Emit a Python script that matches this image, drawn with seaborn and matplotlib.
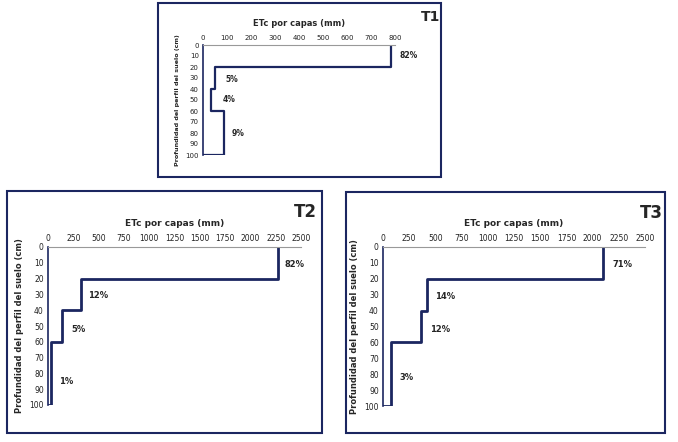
import numpy as np
import pandas as pd
import matplotlib
matplotlib.use('Agg')
import matplotlib.pyplot as plt
import seaborn as sns
from matplotlib.patches import Rectangle

# layer boundaries (cm) and ETc per layer (mm)
depths = [0, 20, 40, 60, 100]
etc_t1 = [785, 48, 34, 89]
etc_t2 = [2270, 330, 135, 30]
etc_t3 = [2100, 420, 365, 80]
pct_t1 = ['82%', '5%', '4%', '9%']
pct_t2 = ['82%', '12%', '5%', '1%']
pct_t3 = ['71%', '14%', '12%', '3%']
# label anchor points (x in mm, y in cm)
lab_t1 = [(820, 10), (95, 31), (80, 50), (120, 80)]
lab_t2 = [(2340, 11), (400, 31), (230, 52), (110, 85)]
lab_t3 = [(2190, 11), (495, 31), (450, 52), (160, 82)]

NAVY = '#1b2660'
W, H = 678, 442

sns.set_theme(style='white')
plt.rcParams['font.family'] = ['DejaVu Sans']


def profile(vals):
    xs, ys = [], []
    for i, v in enumerate(vals):
        xs += [v, v]
        ys += [depths[i], depths[i + 1]]
    xs.append(0)
    ys.append(depths[-1])
    return pd.DataFrame({'etc': xs, 'prof': ys})


def px_axes(fig, x0, x1, y0, y1):
    # pixel box (from top-left) -> figure axes
    return fig.add_axes([x0 / W, (H - y1) / H, (x1 - x0) / W, (y1 - y0) / H])


def draw_panel(ax, vals, pcts, labs, xmax, xstep, fs, yfs, lw):
    df = profile(vals)
    sns.lineplot(data=df, x='etc', y='prof', sort=False, estimator=None,
                 color=NAVY, linewidth=lw, ax=ax)
    ax.set_xlim(0, xmax)
    ax.set_ylim(100, 0)
    ax.set_xticks(np.arange(0, xmax + 1, xstep))
    ax.set_yticks(np.arange(0, 101, 10))
    ax.xaxis.tick_top()
    ax.xaxis.set_label_position('top')
    ax.tick_params(axis='both', labelsize=fs, length=0, pad=3, colors='#222222')
    ax.set_xlabel('ETc por capas (mm)', fontsize=fs + 1, fontweight='bold', labelpad=6)
    ax.set_ylabel('Profundidad del perfil del suelo (cm)', fontsize=yfs,
                  fontweight='bold', labelpad=4)
    for s in ['right', 'bottom']:
        ax.spines[s].set_visible(False)
    ax.spines['top'].set_color('#999999')
    ax.spines['top'].set_linewidth(0.8)
    ax.spines['left'].set_color(NAVY)
    ax.spines['left'].set_linewidth(1.2)
    for (lx, ly), t in zip(labs, pcts):
        ax.text(lx, ly, t, fontsize=fs + 0.5, fontweight='bold', ha='left', va='center')
    ax.patch.set_alpha(0)


fig = plt.figure(figsize=(W / 100, H / 100), dpi=100)
fig.patch.set_facecolor('white')

# panel frames
for (x0, y0, x1, y1) in [(158, 3, 441, 177), (7, 191, 322, 433), (346, 192, 665, 433)]:
    fig.patches.append(Rectangle((x0 / W, (H - y1) / H), (x1 - x0) / W, (y1 - y0) / H,
                                 transform=fig.transFigure, fill=False,
                                 edgecolor=NAVY, linewidth=1.5))

ax1 = px_axes(fig, 203, 395, 45, 155)
draw_panel(ax1, etc_t1, pct_t1, lab_t1, 800, 100, 5, 4.6, 1.6)
ax2 = px_axes(fig, 48, 301, 247, 405)
draw_panel(ax2, etc_t2, pct_t2, lab_t2, 2500, 250, 5.5, 6, 2.0)
ax3 = px_axes(fig, 383, 645, 247, 406)
draw_panel(ax3, etc_t3, pct_t3, lab_t3, 2500, 250, 5.5, 6, 2.0)

# panel tags
fig.text(431 / W, 1 - 17 / H, 'T1', fontsize=10, fontweight='bold', ha='center', va='center')
fig.text(305 / W, 1 - 212 / H, 'T2', fontsize=12, fontweight='bold', ha='center', va='center')
fig.text(651 / W, 1 - 213 / H, 'T3', fontsize=12, fontweight='bold', ha='center', va='center')

fig.savefig('out.png', dpi=100)
